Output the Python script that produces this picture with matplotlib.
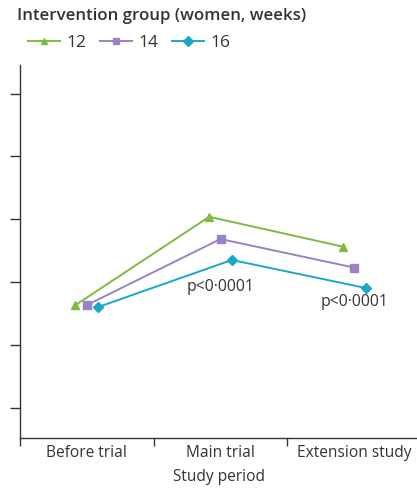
import matplotlib.pyplot as plt
import numpy as np

plt.rcParams['font.family'] = ['Open Sans', 'DejaVu Sans']

# study periods and group values (arbitrary units)
periods = ['Before trial', 'Main trial', 'Extension study']
groups = ['12', '14', '16']
vals_12 = [2.09, 3.48, 3.01]
vals_14 = [2.09, 3.13, 2.68]
vals_16 = [2.06, 2.80, 2.36]
p_labels = ['', 'p<0\u00b70001', 'p<0\u00b70001']

colors = ['#7dbb42', '#9b82c4', '#1ba8c8']
markers = ['^', 's', 'D']
offsets = [-0.085, 0.0, 0.085]

fig = plt.figure(figsize=(4.17, 4.92), dpi=100)
ax = fig.add_axes([0.048, 0.110, 0.952, 0.758])

x = np.arange(len(periods))
for vals, g, c, m, off in zip([vals_12, vals_14, vals_16], groups, colors, markers, offsets):
    ax.plot(x + off, vals, color=c, marker=m, markersize=5.5, lw=1.4, label=g)

# p-value labels under the 16-week points
ax.text(1, 2.38, p_labels[1], ha='center', va='center', fontsize=11.3, color='#333333')
ax.text(2, 2.14, p_labels[2], ha='center', va='center', fontsize=11.3, color='#333333')

ax.set_xlim(-0.5, 2.47)
ax.set_ylim(0, 5.87)
ax.set_yticks(np.arange(0.47, 5.8, 0.99))
ax.set_yticklabels([])
ax.set_xticks([-0.5, 0.5, 1.5])
ax.set_xticklabels([])
ax.set_xticks(x, minor=True)
ax.set_xticklabels(periods, minor=True, fontsize=11.2, color='#333333')
ax.tick_params(axis='x', which='minor', length=0, pad=5)
ax.tick_params(axis='x', which='major', length=6, width=1, color='#333333', direction='out')
ax.tick_params(axis='y', length=7, width=1, color='#333333', direction='out')
ax.set_xlabel('Study period', fontsize=11.2, color='#333333', labelpad=6)

for s in ['top', 'right']:
    ax.spines[s].set_visible(False)
for s in ['left', 'bottom']:
    ax.spines[s].set_color('#333333')
    ax.spines[s].set_linewidth(1)

fig.text(0.040, 0.967, 'Intervention group (women, weeks)', fontsize=12.2,
         fontweight='semibold', color='#333333', va='center')
leg = fig.legend(loc='center left', bbox_to_anchor=(0.066, 0.912), ncol=3, frameon=False,
                 fontsize=12.5, handlelength=1.85, handletextpad=0.4, columnspacing=0.75,
                 labelcolor='#333333', borderaxespad=0, borderpad=0, markerscale=0.85)

fig.savefig('out.png', dpi=100)
